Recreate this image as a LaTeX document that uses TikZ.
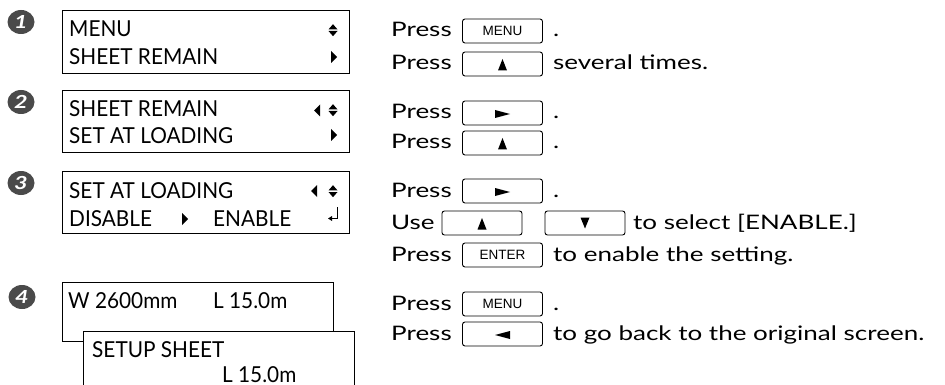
\documentclass[tikz,border=0pt]{standalone}
\usepackage{fontspec}
\setmainfont[FakeStretch=1.3]{Lato}
\newfontfamily\lcdfont[FakeStretch=0.945]{Lato}
\newfontfamily\keyfont{Liberation Sans}
\usetikzlibrary{shapes.geometric}
\definecolor{numgray}{HTML}{4A4A4A}
\begin{document}
\begin{tikzpicture}[x=1pt,y=-1pt,
  txt/.style={anchor=base west, inner sep=0, font=\fontsize{20}{24}\selectfont},
  keybox/.style={draw, rounded corners=2.5pt, line width=0.9pt, minimum width=80pt, minimum height=24pt, inner sep=0, font=\keyfont\fontsize{13.5}{15}\selectfont},
  lcd/.style={draw, line width=1pt, fill=white, anchor=north west, inner sep=0},
  lcdtxt/.style={anchor=base west, inner sep=0, font=\lcdfont\fontsize{22}{26}\selectfont},
  num/.style={ellipse, fill=numgray, minimum width=27pt, minimum height=24pt, inner sep=0, text=white, font=\bfseries\itshape\fontsize{18}{20}\selectfont},
  tri/.style={fill=black, draw=none}
]
\useasboundingbox (0,0) rectangle (945,385);

% key symbol macros (drawn relative to key node centre)
\def\keyup#1{\fill[tri] ([shift={(-4.5,6.5)}]#1.center) -- ([shift={(4.5,6.5)}]#1.center) -- ([shift={(0,-5)}]#1.center) -- cycle;}
\def\keydown#1{\fill[tri] ([shift={(-4.5,-5.5)}]#1.center) -- ([shift={(4.5,-5.5)}]#1.center) -- ([shift={(0,5.5)}]#1.center) -- cycle;}
\def\keyright#1{\fill[tri] ([shift={(-7.5,-3)}]#1.center) -- ([shift={(-7.5,5)}]#1.center) -- ([shift={(7.5,1)}]#1.center) -- cycle;}
\def\keyleft#1{\fill[tri] ([shift={(7.5,-3)}]#1.center) -- ([shift={(7.5,5)}]#1.center) -- ([shift={(-7.5,1)}]#1.center) -- cycle;}
% LCD up/down symbol centred at (x,y)
\def\updown#1#2{\fill[tri] (#1-4.5,#2-0.8) -- (#1+4.5,#2-0.8) -- (#1,#2-6) -- cycle;
  \fill[tri] (#1-4.5,#2+0.8) -- (#1+4.5,#2+0.8) -- (#1,#2+6) -- cycle;}

% step numbers
\node[num] (n1) at (21,22) {1};
\node[num] (n2) at (21,102) {2};
\node[num] (n3) at (21,183) {3};
\node[num] (n4) at (22,297) {4};

% LCD 1
\node[lcd, minimum width=287pt, minimum height=63pt] (lcd1) at (62,10) {};
\node[lcdtxt] (l1a) at (69,37) {MENU};
\node[lcdtxt] (l1b) at (69,65) {SHEET REMAIN};
\updown{333}{30.2}
\fill[tri] (331,51) -- (331,63) -- (337,57) -- cycle;

% LCD 2
\node[lcd, minimum width=287pt, minimum height=62pt] (lcd2) at (62,90) {};
\node[lcdtxt] (l2a) at (69,117) {SHEET REMAIN};
\node[lcdtxt] (l2b) at (69,144) {SET AT LOADING};
\fill[tri] (320,104.5) -- (320,116.5) -- (314,110.5) -- cycle;
\updown{333}{110.2}
\fill[tri] (331,129) -- (331,141) -- (337,135) -- cycle;

% LCD 3
\node[lcd, minimum width=287pt, minimum height=62pt] (lcd3) at (62,171) {};
\node[lcdtxt] (l3a) at (69,198) {SET AT LOADING};
\node[lcdtxt] (l3b) at (69,226) {DISABLE};
\node[lcdtxt] (l3c) at (213,226) {ENABLE};
\fill[tri] (317,185) -- (317,197) -- (311,191) -- cycle;
\updown{333}{191.2}
\fill[tri] (182,213) -- (182,225) -- (188,219) -- cycle;
\draw[line width=0.9pt] (337,207) -- (337,218.5) -- (331,218.5);
\fill[tri] (328,218.5) -- (332,216) -- (332,221) -- cycle;

% LCD 4
\node[lcd, minimum width=271pt, minimum height=59pt] (lcd4) at (62,282) {};
\node[lcdtxt] (l4a) at (68,308) {W 2600mm};
\node[lcdtxt] (l4b) at (213,308) {L 15.0m};
\fill[white] (83,331) rectangle (354,390);
\draw[line width=1pt] (83,390) -- (83,331) -- (354,331) -- (354,390);
\node[lcdtxt] (l5a) at (92,357) {SETUP SHEET};
\node[lcdtxt] (l5b) at (222,382) {L 15.0m};

% instructions
\node[txt] (p1a) at (391,37) {Press};
\node[keybox] (k1a) at (502.5,31) {MENU};
\node[txt] (d1a) at (553,37) {.};
\node[txt] (p1b) at (391,70) {Press};
\node[keybox] (k1b) at (502.5,64) {}; \keyup{k1b}
\node[txt] (d1b) at (553,70) {several times.};

\node[txt] (p2a) at (391,119) {Press};
\node[keybox] (k2a) at (502.5,113) {}; \keyright{k2a}
\node[txt] (d2a) at (553,119) {.};
\node[txt] (p2b) at (391,149) {Press};
\node[keybox] (k2b) at (502.5,143) {}; \keyup{k2b}
\node[txt] (d2b) at (553,149) {.};

\node[txt] (p3a) at (391,197) {Press};
\node[keybox] (k3a) at (502.5,191) {}; \keyright{k3a}
\node[txt] (d3a) at (553,197) {.};
\node[txt] (p3b) at (391,229) {Use};
\node[keybox] (k3b) at (482,223) {}; \keyup{k3b}
\node[keybox] (k3c) at (585,223) {}; \keydown{k3c}
\node[txt] (d3b) at (633,229) {to select [ENABLE.]};
\node[txt] (p3c) at (391,261) {Press};
\node[keybox] (k3d) at (502.5,255) {ENTER};
\node[txt] (d3c) at (553,261) {to enable the setting.};

\node[txt] (p4a) at (391,310) {Press};
\node[keybox] (k4a) at (502.5,304) {MENU};
\node[txt] (d4a) at (553,310) {.};
\node[txt] (p4b) at (391,340) {Press};
\node[keybox] (k4b) at (502.5,334) {}; \keyleft{k4b}
\node[txt] (d4b) at (553,340) {to go back to the original screen.};
\end{tikzpicture}
\end{document}
